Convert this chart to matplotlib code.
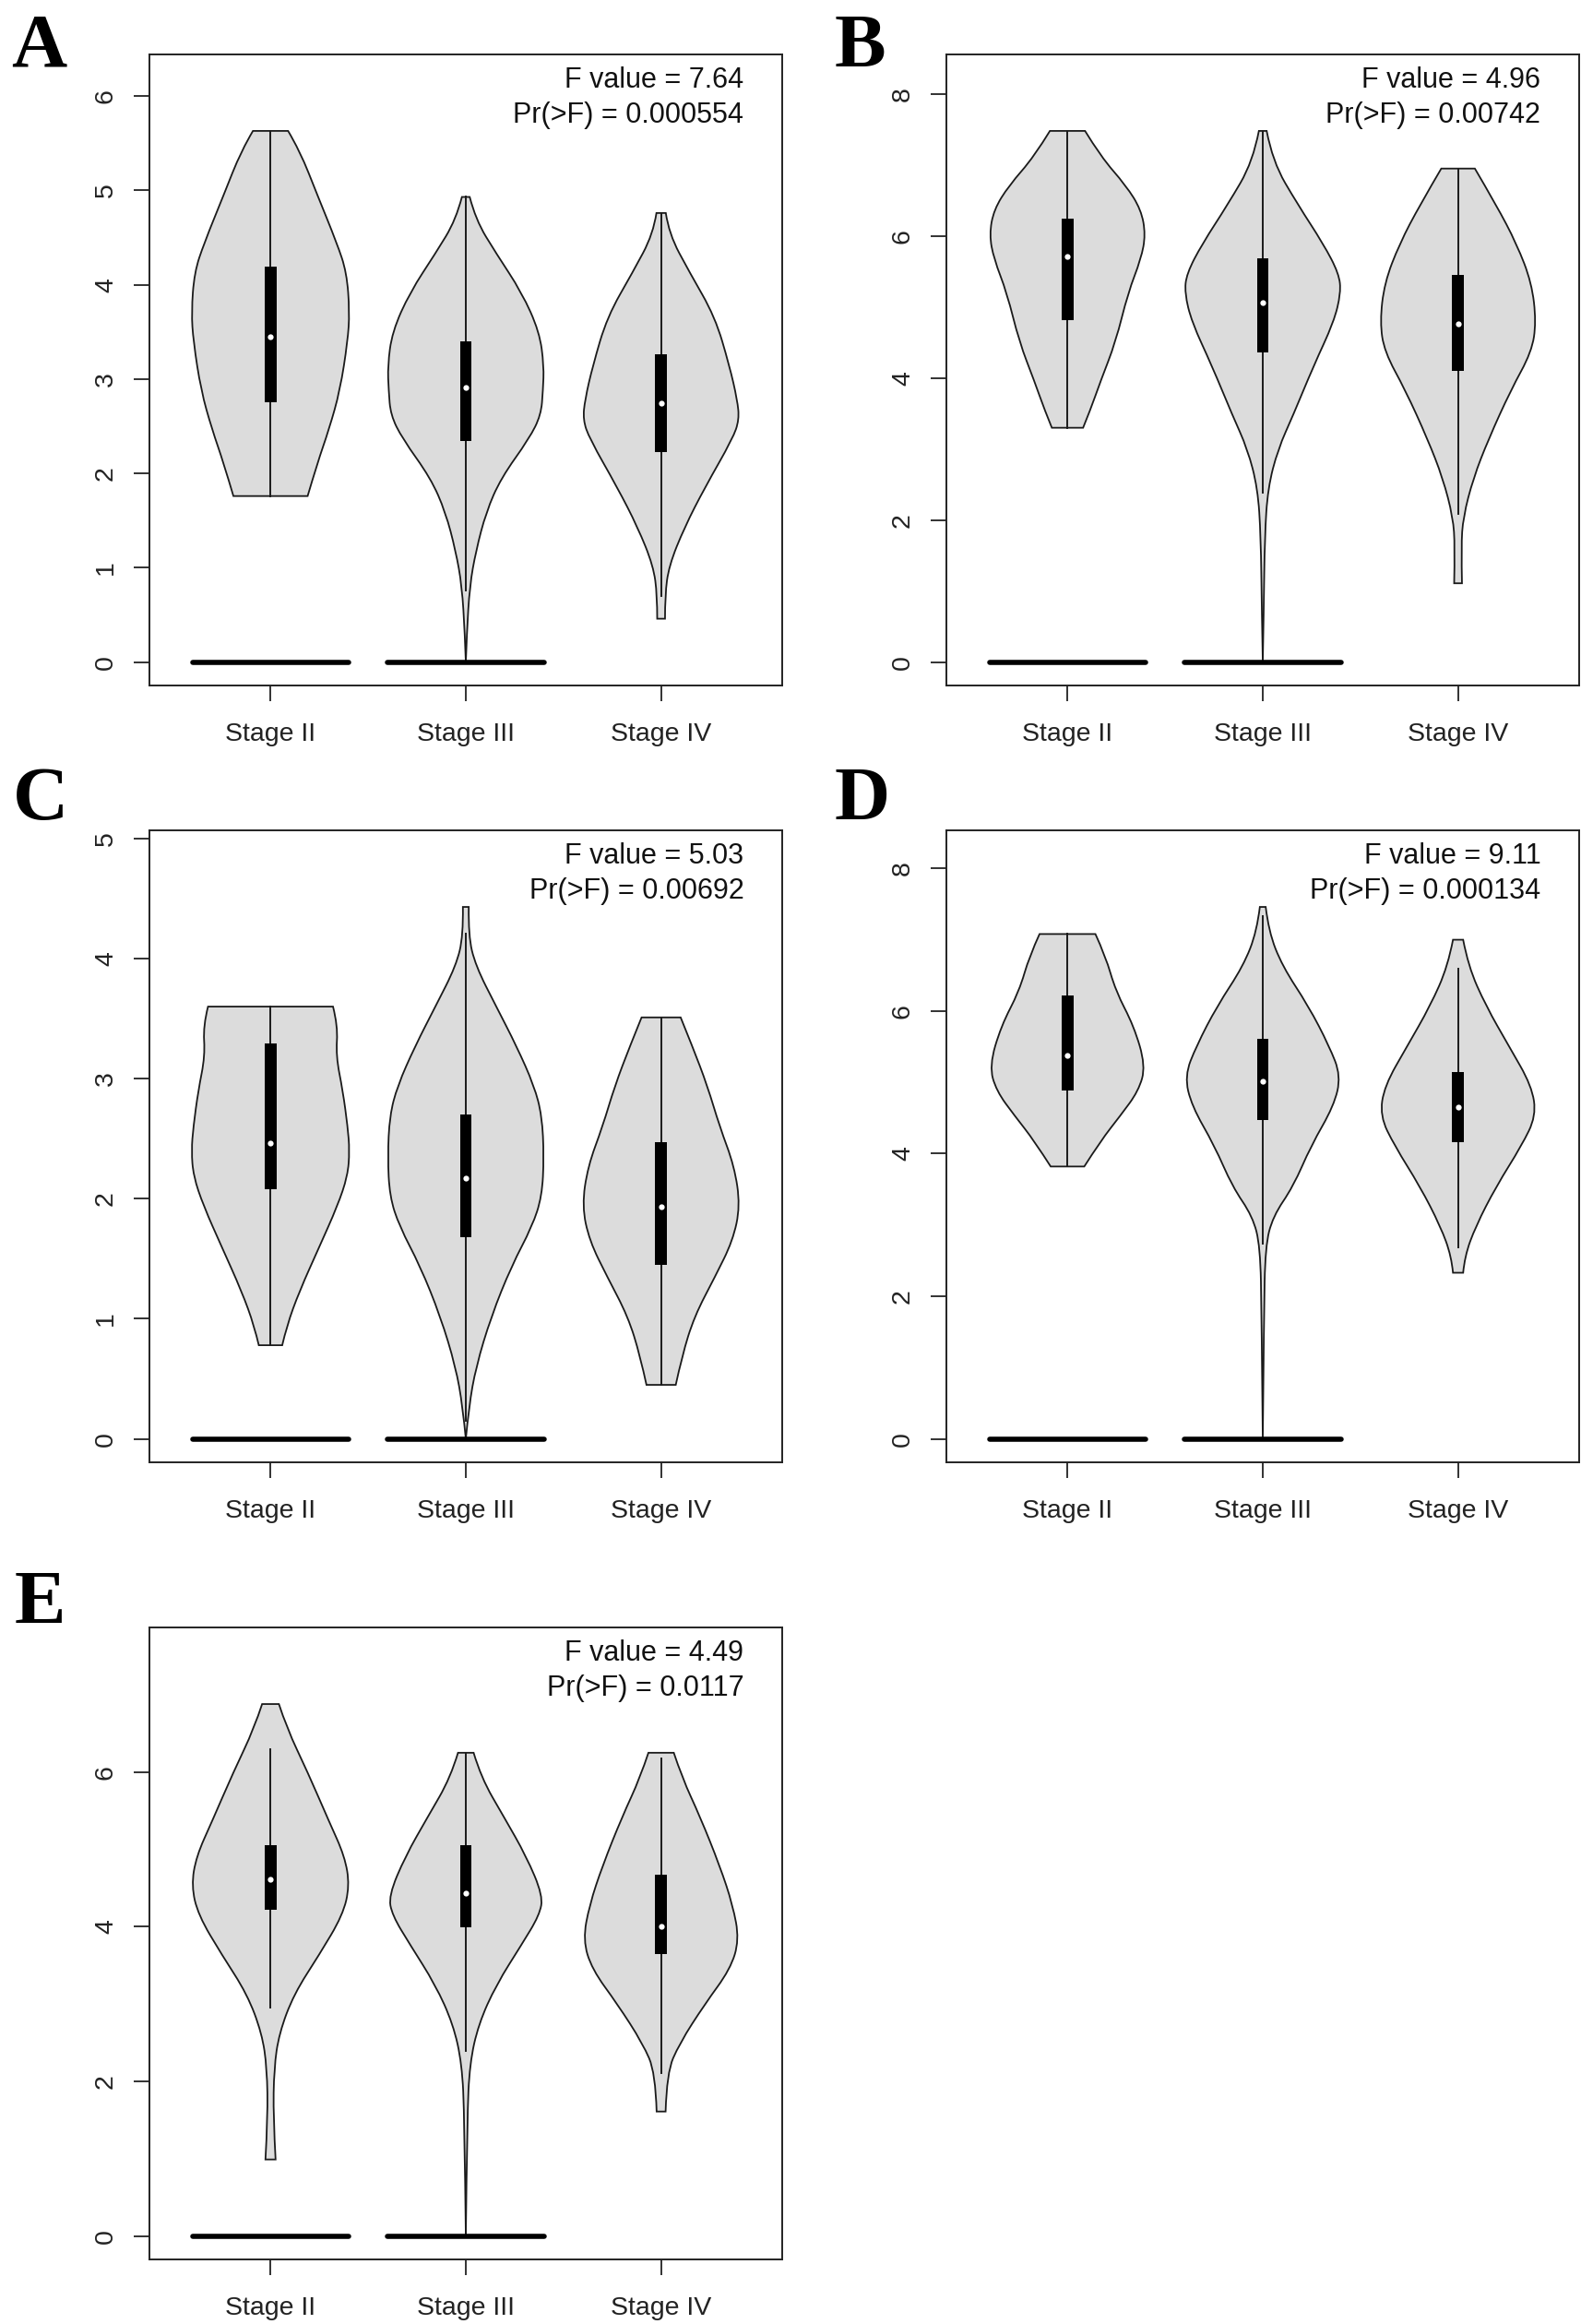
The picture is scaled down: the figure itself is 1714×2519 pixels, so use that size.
import matplotlib
matplotlib.use("Agg")
import matplotlib.pyplot as plt
from matplotlib.path import Path
from matplotlib.patches import PathPatch, Rectangle

plt.rcParams['font.family'] = ['Liberation Sans', 'DejaVu Sans']

groups = ["Stage II", "Stage III", "Stage IV"]
zero_groups = ["Stage II", "Stage III"]   # groups with a flat bar at 0

panel_letters = ["A", "B", "C", "D", "E"]
f_values = ["7.64", "4.96", "5.03", "9.11", "4.49"]
p_values = ["0.000554", "0.00742", "0.00692", "0.000134", "0.0117"]
y_ticks = [[0, 1, 2, 3, 4, 5, 6], [0, 2, 4, 6, 8], [0, 1, 2, 3, 4, 5],
           [0, 2, 4, 6, 8], [0, 2, 4, 6]]

# violin outlines: y levels (bottom -> top) and half widths, per group
A_Y = [[1.76, 2.11, 2.47, 2.88, 3.40, 3.71, 4.13, 4.44, 4.95, 5.42, 5.63],
       [0, 0.30, 0.81, 1.18, 1.59, 1.95, 2.37, 2.62, 2.88, 3.14, 3.50, 3.92, 4.33, 4.69, 4.93],
       [0.46, 0.71, 1.02, 1.43, 1.85, 2.37, 2.57, 2.78, 3.14, 3.66, 4.13, 4.54, 4.76]]
A_W = [[0.19, 0.24, 0.30, 0.356, 0.395, 0.405, 0.39, 0.34, 0.24, 0.15, 0.09],
       [0, 0.005, 0.02, 0.052, 0.104, 0.18, 0.325, 0.385, 0.395, 0.40, 0.377, 0.286, 0.156, 0.05, 0.02],
       [0.02, 0.02, 0.04, 0.12, 0.224, 0.367, 0.40, 0.39, 0.35, 0.276, 0.146, 0.04, 0.024]]
A_BOX = [(2.75, 3.45, 4.19), (2.34, 2.91, 3.40), (2.23, 2.74, 3.26)]
A_WHISK = [(1.76, 5.63), (0.76, 4.93), (0.70, 4.76)]

B_Y = [[3.30, 3.55, 3.96, 4.51, 5.20, 5.68, 6.02, 6.37, 6.71, 7.12, 7.48],
       [0, 0.73, 1.77, 2.45, 3.00, 3.48, 4.17, 4.79, 5.20, 5.47, 5.89, 6.44, 7.05, 7.48],
       [1.11, 1.63, 2.04, 2.59, 3.14, 3.83, 4.37, 4.79, 5.34, 5.89, 6.44, 6.95]]
B_W = [[0.08, 0.117, 0.17, 0.247, 0.31, 0.377, 0.40, 0.377, 0.30, 0.17, 0.09],
       [0, 0.005, 0.01, 0.026, 0.078, 0.156, 0.26, 0.364, 0.40, 0.39, 0.31, 0.18, 0.05, 0.02],
       [0.02, 0.016, 0.026, 0.078, 0.156, 0.27, 0.377, 0.40, 0.377, 0.30, 0.195, 0.086]]
B_BOX = [(4.82, 5.71, 6.25), (4.36, 5.06, 5.68), (4.10, 4.77, 5.45)]
B_WHISK = [(3.30, 7.48), (2.38, 7.48), (2.09, 6.95)]

C_Y = [[0.78, 0.94, 1.23, 1.60, 1.94, 2.19, 2.40, 2.60, 2.90, 3.19, 3.44, 3.60],
       [0, 0.27, 0.60, 1.02, 1.44, 1.77, 2.02, 2.35, 2.69, 2.94, 3.27, 3.60, 3.94, 4.19, 4.43],
       [0.45, 0.69, 1.02, 1.35, 1.65, 1.94, 2.27, 2.60, 2.94, 3.27, 3.51]]
C_W = [[0.06, 0.083, 0.148, 0.25, 0.343, 0.395, 0.405, 0.395, 0.37, 0.335, 0.345, 0.32],
       [0, 0.016, 0.052, 0.13, 0.234, 0.34, 0.39, 0.40, 0.39, 0.35, 0.26, 0.156, 0.05, 0.013, 0.015],
       [0.075, 0.107, 0.17, 0.276, 0.367, 0.405, 0.375, 0.30, 0.237, 0.16, 0.10]]
C_BOX = [(2.08, 2.46, 3.29), (1.68, 2.17, 2.70), (1.45, 1.93, 2.47)]
C_WHISK = [(0.78, 3.60), (0.15, 4.21), (0.45, 3.51)]

D_Y = [[3.82, 4.18, 4.53, 4.88, 5.23, 5.79, 6.28, 6.77, 7.08],
       [0, 1.72, 2.70, 3.12, 3.54, 4.11, 4.67, 5.09, 5.51, 6.07, 6.63, 7.12, 7.46],
       [2.33, 2.56, 2.98, 3.54, 4.11, 4.53, 4.95, 5.51, 6.07, 6.63, 7.00]]
D_W = [[0.086, 0.17, 0.27, 0.364, 0.40, 0.34, 0.247, 0.195, 0.143],
       [0, 0.006, 0.013, 0.052, 0.156, 0.247, 0.364, 0.40, 0.34, 0.234, 0.10, 0.03, 0.015],
       [0.026, 0.034, 0.09, 0.195, 0.325, 0.40, 0.377, 0.26, 0.143, 0.052, 0.026]]
D_BOX = [(4.89, 5.38, 6.22), (4.47, 5.02, 5.61), (4.16, 4.65, 5.15)]
D_WHISK = [(3.82, 7.08), (2.74, 7.33), (2.69, 6.60)]

E_Y = [[0.99, 1.53, 2.17, 2.62, 3.13, 3.64, 4.15, 4.53, 4.91, 5.36, 6.00, 6.57, 6.88],
       [0, 1.53, 2.23, 2.74, 3.25, 3.77, 4.15, 4.40, 4.91, 5.42, 5.93, 6.25],
       [1.61, 2.11, 2.49, 3.00, 3.45, 3.83, 4.28, 4.79, 5.42, 5.93, 6.25]]
E_W = [[0.026, 0.014, 0.018, 0.044, 0.12, 0.25, 0.37, 0.405, 0.38, 0.30, 0.19, 0.083, 0.043],
       [0, 0.007, 0.02, 0.065, 0.156, 0.286, 0.377, 0.395, 0.31, 0.195, 0.078, 0.04],
       [0.023, 0.029, 0.094, 0.224, 0.354, 0.40, 0.367, 0.30, 0.20, 0.107, 0.065]]
E_BOX = [(4.22, 4.61, 5.06), (3.99, 4.44, 5.06), (3.65, 4.01, 4.67)]
E_WHISK = [(2.96, 6.30), (2.39, 6.25), (2.11, 6.18)]

panels = [(A_Y, A_W, A_BOX, A_WHISK), (B_Y, B_W, B_BOX, B_WHISK),
          (C_Y, C_W, C_BOX, C_WHISK), (D_Y, D_W, D_BOX, D_WHISK),
          (E_Y, E_W, E_BOX, E_WHISK)]

# layout in pixels of the 1715x2519 canvas: left, top, right, bottom
W, H = 1715, 2519
axes_px = [(162, 59, 848, 743), (1026, 59, 1712, 743),
           (162, 900, 848, 1585), (1026, 900, 1712, 1585),
           (162, 1764, 848, 2449)]
letter_px = [(12, 72), (905, 72), (14, 888), (905, 888), (16, 1759)]

FILL = "#dcdcdc"
EDGE = "#1a1a1a"


def smooth_side(pts):
    verts, codes = [], []
    for i in range(1, len(pts) - 1):
        verts.append(pts[i])
        if i < len(pts) - 2:
            verts.append(((pts[i][0] + pts[i + 1][0]) / 2, (pts[i][1] + pts[i + 1][1]) / 2))
        else:
            verts.append(pts[-1])
        codes += [Path.CURVE3, Path.CURVE3]
    return verts, codes


def violin_patch(center, ys, ws):
    right = [(center + w, y) for y, w in zip(ys, ws)]
    left = [(center - w, y) for y, w in zip(ys, ws)][::-1]
    verts, codes = [right[0]], [Path.MOVETO]
    v, c = smooth_side(right)
    verts += v
    codes += c
    verts.append(left[0])
    codes.append(Path.LINETO)
    v, c = smooth_side(left)
    verts += v
    codes += c
    verts.append(right[0])
    codes.append(Path.CLOSEPOLY)
    return PathPatch(Path(verts, codes), facecolor=FILL, edgecolor=EDGE, lw=1.3, zorder=2)


fig = plt.figure(figsize=(W / 100, H / 100), dpi=100)

for k, (ys_all, ws_all, boxes, whisks) in enumerate(panels):
    l, t, r, b = axes_px[k]
    ax = fig.add_axes([l / W, 1 - b / H, (r - l) / W, (b - t) / H])

    for i, g in enumerate(groups):
        x = i + 1
        ax.add_patch(violin_patch(x, ys_all[i], ws_all[i]))
        lo, hi = whisks[i]
        ax.plot([x, x], [lo, hi], color=EDGE, lw=1.4, zorder=3)
        q1, med, q3 = boxes[i]
        ax.add_patch(Rectangle((x - 0.03, q1), 0.06, q3 - q1, facecolor="black",
                               edgecolor="none", zorder=4))
        ax.plot([x], [med], "o", color="white", ms=4.5, mec="none", zorder=5)
        if g in zero_groups:
            ax.plot([x - 0.4, x + 0.4], [0, 0], color="black", lw=4,
                    solid_capstyle="round", zorder=6)

    top = 1.1 * max(max(y) for y in ys_all)
    ax.set_ylim(-0.04 * top, 1.04 * top)
    ax.set_xlim(0.38, 3.62)
    ax.set_xticks([1, 2, 3])
    ax.set_xticklabels(groups)
    ax.set_yticks(y_ticks[k])
    ax.tick_params(axis="both", length=12.5, width=1.3, colors="#222222", labelsize=20.5)
    ax.tick_params(axis="x", pad=16)
    ax.tick_params(axis="y", pad=12)
    for lab in ax.get_yticklabels():
        lab.set_rotation(90)
        lab.set_va("center")
    for sp in ax.spines.values():
        sp.set_linewidth(1.4)
        sp.set_color("#222222")

    ax.annotate("F value = " + f_values[k], xy=(1, 1), xycoords="axes fraction",
                xytext=(-30, -26), textcoords="offset points", ha="right",
                va="baseline", fontsize=22, color="#111111")
    ax.annotate("Pr(>F) = " + p_values[k], xy=(1, 1), xycoords="axes fraction",
                xytext=(-30, -53.5), textcoords="offset points", ha="right",
                va="baseline", fontsize=22, color="#111111")

    lx, ly = letter_px[k]
    fig.text(lx / W, 1 - ly / H, panel_letters[k], fontsize=60, fontweight="bold",
             family=["Liberation Serif", "DejaVu Serif"], ha="left", va="baseline")

fig.savefig("out.png", dpi=100)
